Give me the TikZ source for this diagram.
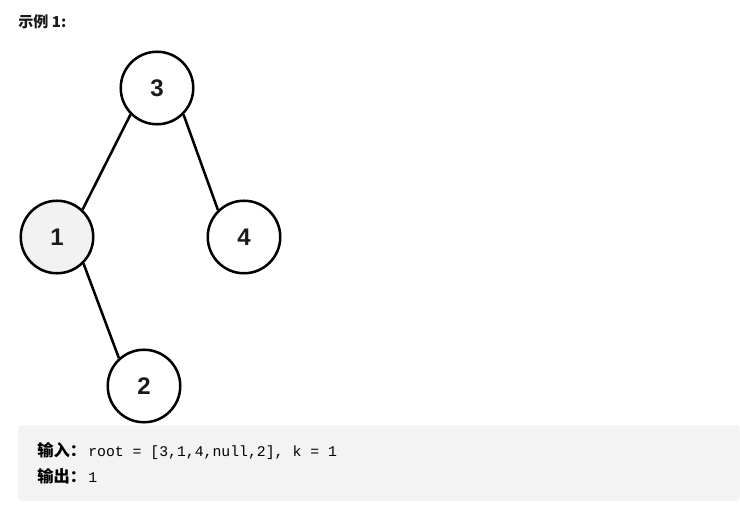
\documentclass[tikz,border=0pt]{standalone}
\usepackage{fontspec}
\setmainfont{Liberation Sans}
\setmonofont{Liberation Mono}
\newfontfamily\cjk{Noto Sans CJK SC}
\definecolor{boxgray}{HTML}{F3F3F3}
\definecolor{nodegray}{HTML}{F2F2F2}
\definecolor{txt}{HTML}{1A1A1A}
\begin{document}
\begin{tikzpicture}[x=0.75pt,y=-0.75pt,
  treenode/.style={circle,draw=black,line width=1.9pt,minimum size=72.5pt*0.75,inner sep=0pt,fill=white,
    font=\fontsize{18}{18}\selectfont\bfseries,text=txt},
  edge/.style={line width=1.9pt,draw=black},
  cjklabel/.style={anchor=base west,inner sep=0pt,font=\cjk\fontsize{12.2}{14}\selectfont\bfseries,text=black},
  code/.style={anchor=base west,inner sep=0pt,font=\ttfamily\fontsize{11.1}{13}\selectfont,text=black}]
\useasboundingbox (0,0) rectangle (740,514);
\fill[white] (0,0) rectangle (740,514);
\node[anchor=base west,inner sep=0pt,font=\cjk\fontsize{11.3}{13}\selectfont\bfseries,text=txt] (title) at (18,27) {示例 1:};
\fill[boxgray,rounded corners=3pt] (18,425) rectangle (740,501);
\node[treenode] (n3) at (157,88) {3};
\node[treenode,fill=nodegray] (n1) at (57,237) {1};
\node[treenode] (n4) at (244,237) {4};
\node[treenode] (n2) at (144,386) {2};
\draw[edge] (n3.-135) -- (n1.47);
\draw[edge] (n3.-45) -- (n4.134);
\draw[edge] (n1.-45) -- (n2.132);
\node[cjklabel] (in) at (37,456) {输入：};
\node[code] (incode) at (88,456) {root = [3,1,4,null,2], k = 1};
\node[cjklabel] (out) at (37,482) {输出：};
\node[code] (outcode) at (88,482) {1};
\end{tikzpicture}
\end{document}
